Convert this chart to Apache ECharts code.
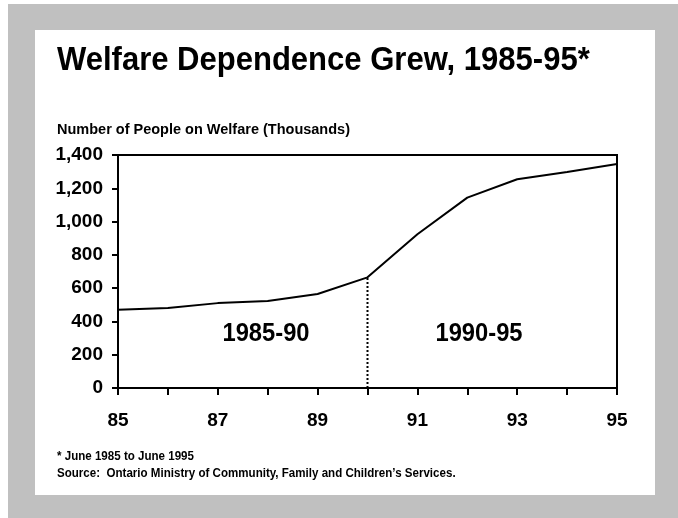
<!DOCTYPE html>
<html>
<head>
<meta charset="utf-8">
<script src="https://cdn.jsdelivr.net/npm/echarts@6/dist/echarts.min.js"></script>
<style>
html,body{margin:0;padding:0;background:#fff;}
#chart{width:678px;height:518px;}
</style>
</head>
<body>
<div id="chart"></div>
<script>
var years = [85, 86, 87, 88, 89, 90, 91, 92, 93, 94, 95];
var welfare = [470, 480, 510, 523, 565, 665, 924, 1144, 1254, 1298, 1346];
var xTickLabels = ['85', '87', '89', '91', '93', '95'];
var yTickLabels = ['0', '200', '400', '600', '800', '1,000', '1,200', '1,400'];
var dividerYear = 90;
var titleText = 'Welfare Dependence Grew, 1985-95*';
var axisTitle = 'Number of People on Welfare (Thousands)';
var footnote = '* June 1985 to June 1995';
var sourceText = 'Source:  Ontario Ministry of Community, Family and Children\u2019s Services.';
var periodLabels = ['1985-90', '1990-95'];

var FONT = '"Liberation Sans", Arial, Helvetica, sans-serif';

var lineData = years.map(function (y, i) { return [y, welfare[i]]; });
var divIdx = years.indexOf(dividerYear);
var dividerData = [[dividerYear, 0], [dividerYear, welfare[divIdx]]];

var chart = echarts.init(document.getElementById('chart'), null, {renderer: 'canvas'});
chart.setOption({
  animation: false,
  backgroundColor: '#ffffff',
  graphic: [
    {type: 'rect', z: -10, shape: {x: 8, y: 4, width: 670, height: 514}, style: {fill: '#c0c0c0'}},
    {type: 'rect', z: -9, shape: {x: 35, y: 30, width: 620, height: 465}, style: {fill: '#ffffff'}},
    {type: 'text', x: 57, y: 61, scaleX: 0.94, style: {text: titleText, font: 'bold 33px ' + FONT, fill: '#000', textVerticalAlign: 'middle'}},
    {type: 'text', x: 57, y: 130, style: {text: axisTitle, font: 'bold 14.5px ' + FONT, fill: '#000', textVerticalAlign: 'middle'}},
    {type: 'text', x: 266, y: 334, scaleX: 0.95, style: {text: periodLabels[0], font: 'bold 25px ' + FONT, fill: '#000', textAlign: 'center', textVerticalAlign: 'middle'}},
    {type: 'text', x: 479, y: 334, scaleX: 0.95, style: {text: periodLabels[1], font: 'bold 25px ' + FONT, fill: '#000', textAlign: 'center', textVerticalAlign: 'middle'}},
    {type: 'text', x: 57, y: 456, scaleX: 0.89, style: {text: footnote, font: 'bold 13px ' + FONT, fill: '#000', textVerticalAlign: 'middle'}},
    {type: 'text', x: 57, y: 473, scaleX: 0.89, style: {text: sourceText, font: 'bold 13px ' + FONT, fill: '#000', textVerticalAlign: 'middle'}}
  ],
  grid: {left: 118, right: 61, top: 155, bottom: 130, show: true, borderColor: '#000', borderWidth: 2, backgroundColor: 'transparent'},
  xAxis: {
    type: 'value', min: 85, max: 95, interval: 1,
    axisLine: {show: true, lineStyle: {color: '#000', width: 2}},
    axisTick: {show: true, inside: false, length: 7, lineStyle: {color: '#000', width: 2}},
    splitLine: {show: false},
    axisLabel: {
      margin: 23, color: '#000', fontFamily: FONT, fontWeight: 'bold', fontSize: 19,
      formatter: function (v) { var s = String(v); return xTickLabels.indexOf(s) >= 0 ? s : ''; }
    }
  },
  yAxis: {
    type: 'value', min: 0, max: 1400, interval: 200,
    axisLine: {show: true, lineStyle: {color: '#000', width: 2}},
    axisTick: {show: true, inside: false, length: 6, lineStyle: {color: '#000', width: 2}},
    splitLine: {show: false},
    axisLabel: {
      margin: 15, color: '#000', fontFamily: FONT, fontWeight: 'bold', fontSize: 19,
      formatter: function (v) { return yTickLabels[Math.round(v / 200)]; }
    }
  },
  series: [
    {type: 'line', data: lineData, symbol: 'none', lineStyle: {color: '#000', width: 2}, z: 3},
    {type: 'line', data: dividerData, symbol: 'none', lineStyle: {color: '#000', width: 2, type: [2, 2]}, z: 2}
  ]
});
</script>
</body>
</html>
